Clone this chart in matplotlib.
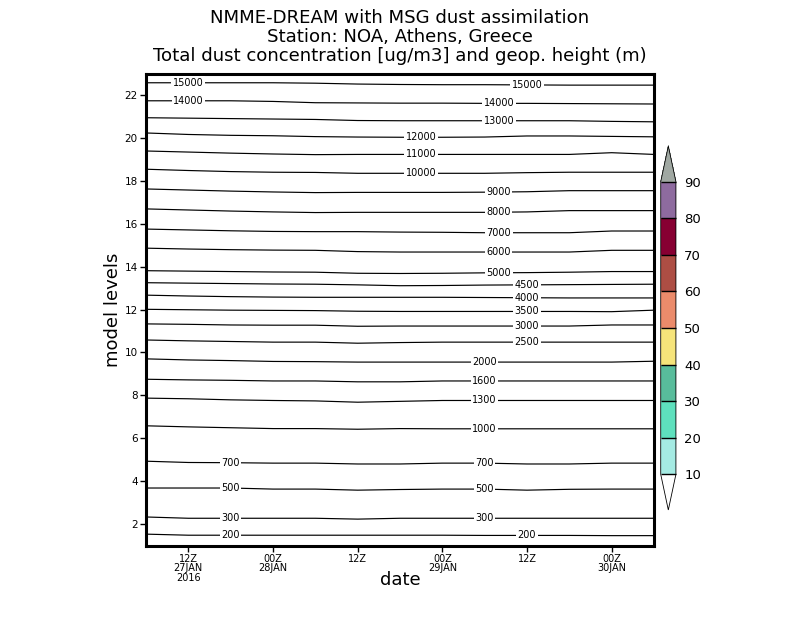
import numpy as np
import matplotlib
matplotlib.use("Agg")
import matplotlib.pyplot as plt
from matplotlib.colors import ListedColormap, BoundaryNorm
from matplotlib.cm import ScalarMappable

# ---------------- data ----------------
# time axis: hours since 06Z 27JAN2016 (6-hourly)
hours = [0, 6, 12, 18, 24, 30, 36, 42, 48, 54, 60, 66, 72]

# model-level position of each geopotential-height isoline (m)
z200   = [1.53, 1.48, 1.48, 1.48, 1.48, 1.48, 1.48, 1.48, 1.47, 1.47, 1.47, 1.46, 1.46]
z300   = [2.33, 2.27, 2.27, 2.27, 2.27, 2.23, 2.27, 2.27, 2.27, 2.27, 2.27, 2.27, 2.27]
z500   = [3.68, 3.68, 3.68, 3.63, 3.63, 3.58, 3.61, 3.63, 3.63, 3.58, 3.62, 3.63, 3.63]
z700   = [4.93, 4.87, 4.86, 4.84, 4.84, 4.80, 4.80, 4.84, 4.84, 4.80, 4.80, 4.84, 4.84]
z1000  = [6.58, 6.53, 6.49, 6.45, 6.45, 6.42, 6.45, 6.44, 6.44, 6.44, 6.44, 6.44, 6.44]
z1300  = [7.87, 7.84, 7.79, 7.76, 7.74, 7.68, 7.72, 7.76, 7.76, 7.76, 7.76, 7.76, 7.76]
z1600  = [8.75, 8.72, 8.70, 8.67, 8.67, 8.63, 8.63, 8.67, 8.67, 8.67, 8.67, 8.67, 8.67]
z2000  = [9.70, 9.65, 9.62, 9.58, 9.57, 9.55, 9.55, 9.55, 9.55, 9.55, 9.55, 9.55, 9.59]
z2500  = [10.58, 10.54, 10.51, 10.48, 10.48, 10.43, 10.46, 10.48, 10.48, 10.48, 10.48, 10.48, 10.48]
z3000  = [11.33, 11.31, 11.28, 11.27, 11.27, 11.22, 11.23, 11.23, 11.23, 11.23, 11.23, 11.28, 11.28]
z3500  = [12.01, 11.99, 11.97, 11.96, 11.95, 11.92, 11.91, 11.91, 11.91, 11.91, 11.91, 11.90, 11.97]
z4000  = [12.67, 12.63, 12.60, 12.58, 12.57, 12.57, 12.57, 12.57, 12.56, 12.55, 12.54, 12.54, 12.54]
z4500  = [13.25, 13.23, 13.21, 13.19, 13.18, 13.15, 13.11, 13.12, 13.14, 13.15, 13.16, 13.17, 13.18]
z5000  = [13.81, 13.79, 13.77, 13.75, 13.74, 13.69, 13.68, 13.69, 13.71, 13.72, 13.74, 13.77, 13.77]
z6000  = [14.86, 14.82, 14.79, 14.77, 14.76, 14.70, 14.68, 14.68, 14.68, 14.68, 14.68, 14.76, 14.76]
z7000  = [15.75, 15.71, 15.67, 15.64, 15.63, 15.63, 15.61, 15.60, 15.58, 15.58, 15.58, 15.66, 15.66]
z8000  = [16.69, 16.64, 16.59, 16.55, 16.52, 16.53, 16.53, 16.53, 16.53, 16.55, 16.61, 16.61, 16.61]
z9000  = [17.62, 17.57, 17.52, 17.48, 17.45, 17.46, 17.46, 17.46, 17.47, 17.49, 17.54, 17.54, 17.54]
z10000 = [18.54, 18.48, 18.43, 18.40, 18.39, 18.35, 18.35, 18.35, 18.35, 18.38, 18.40, 18.40, 18.40]
z11000 = [19.39, 19.34, 19.29, 19.25, 19.22, 19.23, 19.23, 19.23, 19.23, 19.23, 19.23, 19.31, 19.23]
z12000 = [20.23, 20.16, 20.12, 20.10, 20.06, 20.04, 20.03, 20.03, 20.04, 20.09, 20.09, 20.07, 20.05]
z13000 = [20.94, 20.92, 20.90, 20.88, 20.86, 20.81, 20.80, 20.80, 20.80, 20.80, 20.80, 20.77, 20.75]
z14000 = [21.73, 21.73, 21.73, 21.70, 21.64, 21.63, 21.62, 21.62, 21.61, 21.61, 21.60, 21.59, 21.58]
z15000 = [22.57, 22.57, 22.57, 22.57, 22.55, 22.51, 22.49, 22.48, 22.48, 22.47, 22.46, 22.46, 22.46]

heights = [200, 300, 500, 700, 1000, 1300, 1600, 2000, 2500, 3000, 3500, 4000,
           4500, 5000, 6000, 7000, 8000, 9000, 10000, 11000, 12000, 13000, 14000, 15000]
isolines = [z200, z300, z500, z700, z1000, z1300, z1600, z2000, z2500, z3000, z3500,
            z4000, z4500, z5000, z6000, z7000, z8000, z9000, z10000, z11000, z12000,
            z13000, z14000, z15000]

# dust concentration colour scale (ug/m3)
dust_bounds = [10, 20, 30, 40, 50, 60, 70, 80, 90]
dust_colors = ['#a5ebe3', '#5ee0bd', '#58bc9b', '#f6e47a', '#eb8b6b',
               '#ad4e44', '#870032', '#8e6b9f']
dust_over = '#a0a8a2'

xtick_hours = [6, 18, 30, 42, 54, 66]
xtick_labels = ['12Z\n27JAN\n2016', '00Z\n28JAN', '12Z', '00Z\n29JAN', '12Z', '00Z\n30JAN']
ytick_vals = [2, 4, 6, 8, 10, 12, 14, 16, 18, 20, 22]

titles = ['NMME-DREAM with MSG dust assimilation',
          'Station: NOA, Athens, Greece',
          'Total dust concentration [ug/m3] and geop. height (m)']

# ---------------- plot ----------------
fig = plt.figure(figsize=(8.0, 6.18), dpi=100)
ax = fig.add_axes([0.1825, 0.1173, 0.635, 0.7637])

# where each isoline carries its value label (hours)
label_at = {200: [12, 54], 300: [12, 48], 500: [12, 48], 700: [12, 48],
            1000: [48], 1300: [48], 1600: [48], 2000: [48],
            2500: [54], 3000: [54], 3500: [54], 4000: [54], 4500: [54],
            5000: [50], 6000: [50], 7000: [50], 8000: [50], 9000: [50],
            10000: [39], 11000: [39], 12000: [39],
            13000: [50], 14000: [6, 50], 15000: [6, 54]}

hrs = np.array(hours, dtype=float)
for h, line in zip(heights, isolines):
    yv = np.array(line)
    ax.plot(hrs, yv, color='black', lw=0.85, solid_joinstyle='miter')
    for t in label_at.get(h, []):
        ax.text(t, np.interp(t, hrs, yv), str(h), ha='center', va='center',
                fontsize=7, color='black',
                bbox=dict(boxstyle='square,pad=0.15', fc='white', ec='none'))

ax.set_xlim(0, 72)
ax.set_ylim(1, 23)
ax.set_xticks(xtick_hours)
ax.set_xticklabels(xtick_labels, fontsize=7, linespacing=0.95)
ax.set_yticks(ytick_vals)
ax.set_yticklabels([str(v) for v in ytick_vals], fontsize=7.5)
ax.tick_params(direction='out', length=4, width=1, pad=2)
for s in ax.spines.values():
    s.set_linewidth(2.2)
ax.set_ylabel('model levels', fontsize=13, labelpad=2)
ax.set_xlabel('date', fontsize=13, labelpad=-9)

for i, t in enumerate(titles):
    fig.text(0.5, 1 - (18 + 19 * i) / 618, t, ha='center', va='center', fontsize=13.1)

# colour bar
cax = fig.add_axes([0.8259, 0.1748, 0.019, 0.589])
cmap = ListedColormap(dust_colors)
cmap.set_over(dust_over)
cmap.set_under('white')
norm = BoundaryNorm(dust_bounds, cmap.N)
sm = ScalarMappable(norm=norm, cmap=cmap)
cb = fig.colorbar(sm, cax=cax, extend='both', extendfrac=0.122,
                  ticks=dust_bounds, drawedges=True)
cb.outline.set_linewidth(0.6)
cb.dividers.set_linewidth(1.0)
cb.dividers.set_color('black')
cax.tick_params(length=0, labelsize=9.5, pad=6)

fig.savefig('out.png', dpi=100)
